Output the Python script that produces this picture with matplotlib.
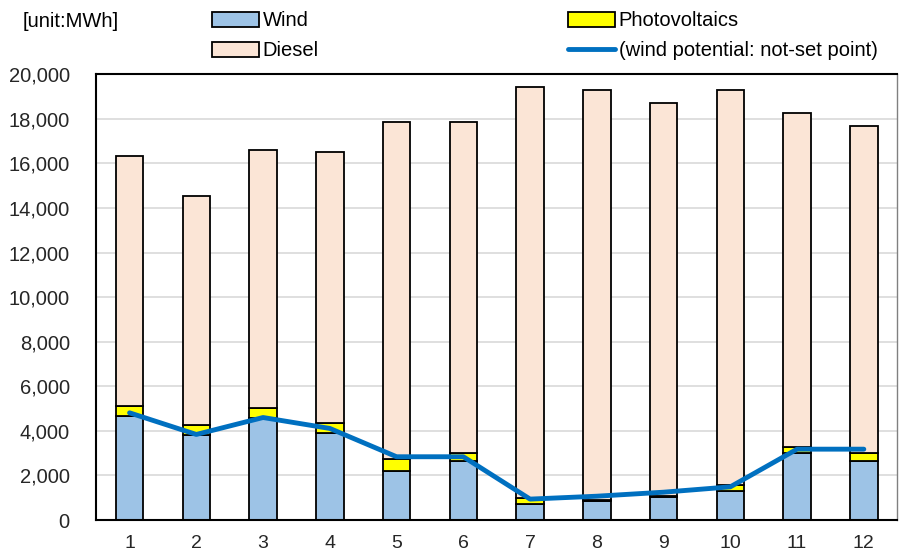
import matplotlib.pyplot as plt
from matplotlib.ticker import FuncFormatter

plt.rcParams['font.family'] = ['Liberation Sans', 'DejaVu Sans']

months = [1, 2, 3, 4, 5, 6, 7, 8, 9, 10, 11, 12]
wind = [4660, 3810, 4600, 3910, 2210, 2650, 720, 870, 1050, 1300, 2990, 2650]
photovoltaics = [450, 450, 410, 450, 530, 370, 250, 30, 30, 270, 270, 370]
diesel = [11210, 10290, 11580, 12140, 15110, 14830, 18450, 18380, 17620, 17710, 14990, 14650]
wind_potential = [4810, 3840, 4600, 4110, 2840, 2840, 940, 1070, 1250, 1490, 3180, 3180]

fig = plt.figure(figsize=(8.99, 5.58), dpi=100)
ax = fig.add_axes([0.107, 0.068, 0.891, 0.799])

bw = 0.41
b1 = ax.bar(months, wind, bw, color='#9DC3E6', edgecolor='black', linewidth=1.3, zorder=2)
pv_bottom = [w for w in wind]
b2 = ax.bar(months, photovoltaics, bw, bottom=pv_bottom, color='#FFFF00',
            edgecolor='black', linewidth=1.3, zorder=2)
d_bottom = [w + p for w, p in zip(wind, photovoltaics)]
b3 = ax.bar(months, diesel, bw, bottom=d_bottom, color='#FBE5D6',
            edgecolor='black', linewidth=1.3, zorder=2)
ln, = ax.plot(months, wind_potential, color='#0070C0', linewidth=3.5,
              solid_capstyle='round', solid_joinstyle='round', zorder=3)

ax.set_xlim(0.5, 12.5)
ax.set_ylim(0, 20000)
ax.set_yticks(range(0, 20001, 2000))
ax.set_xticks(months)
ax.yaxis.set_major_formatter(FuncFormatter(lambda v, p: f'{int(v):,}'))
ax.tick_params(length=0, labelsize=14.5, colors='#262626')
ax.tick_params(axis='x', pad=11, labelsize=14)
ax.tick_params(axis='y', pad=19)
ax.grid(axis='y', color='#D9D9D9', linewidth=1.2, zorder=0)
ax.set_axisbelow(True)
for s in ax.spines.values():
    s.set_color('black')
    s.set_linewidth(1.5)
ax.spines['right'].set_color('#808080')
ax.spines['right'].set_linewidth(1.0)

fig.text(0.025, 0.961, '[unit:MWh]', fontsize=14.5, va='center', ha='left')

leg_kw = dict(frameon=False, fontsize=14.5, handlelength=2.35, handleheight=0.75,
              handletextpad=0.15, labelspacing=0.55, borderaxespad=0, borderpad=0)
fig.legend([b1, b3], ['Wind', 'Diesel'], loc='upper left',
           bbox_to_anchor=(0.236, 0.98), **leg_kw)
fig.legend([b2, ln], ['Photovoltaics', '(wind potential: not-set point)'],
           loc='upper left', bbox_to_anchor=(0.632, 0.98), **leg_kw)

fig.savefig('out.png', dpi=100)
